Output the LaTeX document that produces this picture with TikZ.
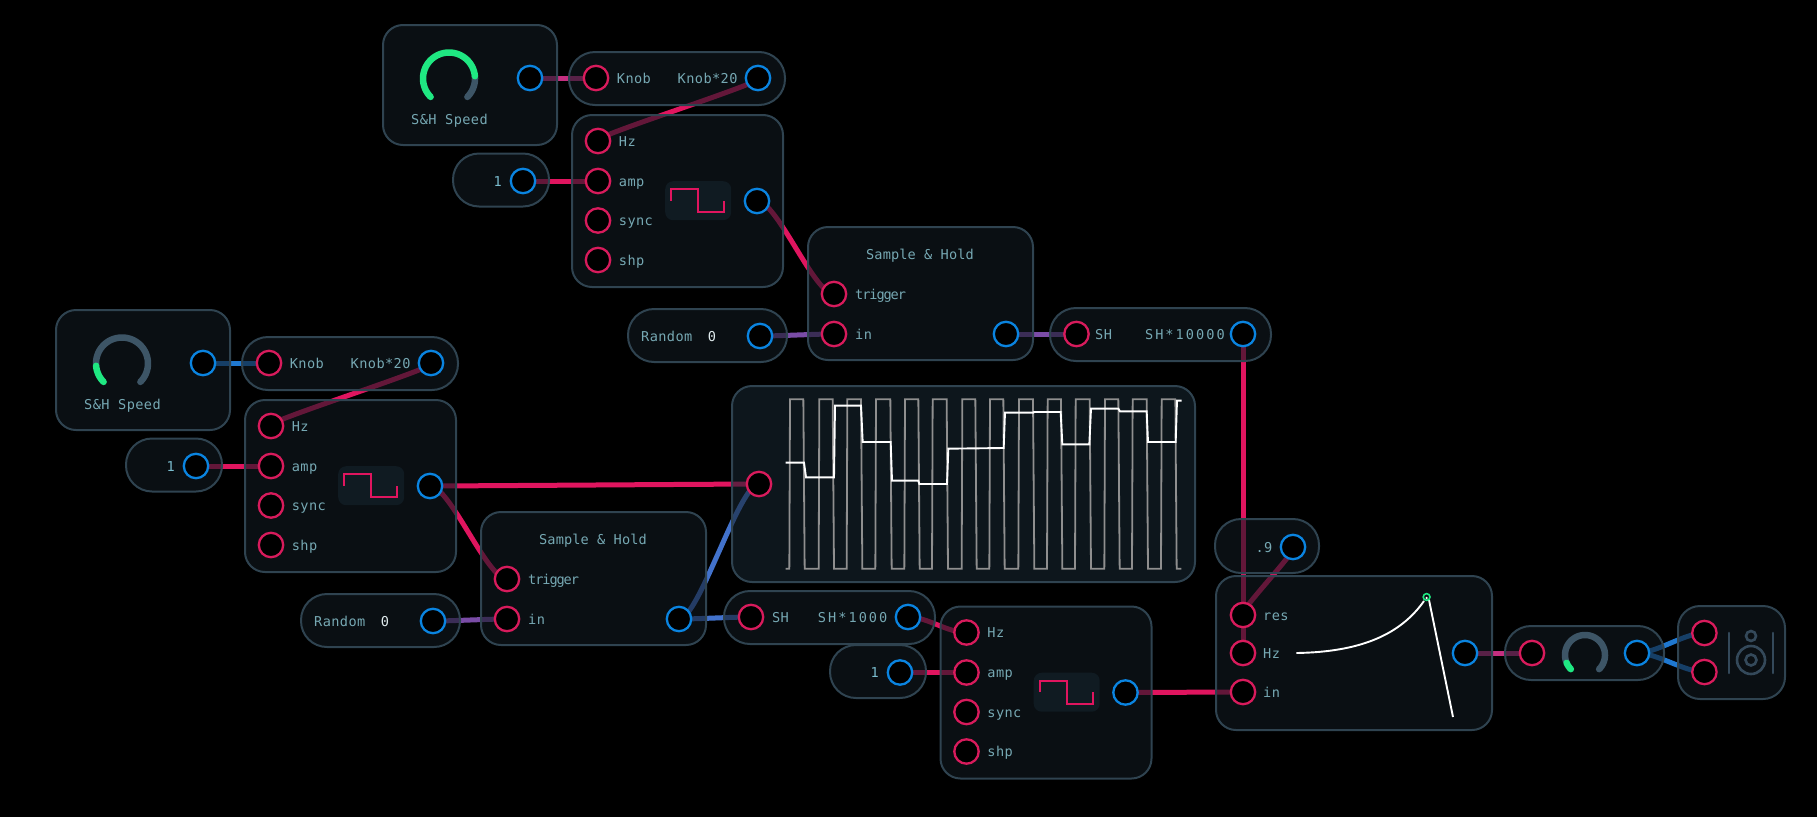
\documentclass[tikz,border=0pt]{standalone}
\usepackage{fontspec}
\setmonofont{DejaVu Sans Mono}
\newfontfamily\labfont[LetterSpace=3]{DejaVu Sans Mono}
\newfontfamily\widefont[LetterSpace=15]{DejaVu Sans Mono}
\newfontfamily\narrowfont[LetterSpace=-8]{DejaVu Sans Mono}
\newfontfamily\titlefont[LetterSpace=1]{DejaVu Sans Mono}
\pgfdeclarelayer{bglayer}
\pgfdeclarelayer{wirelayer}
\pgfsetlayers{bglayer,wirelayer,main}
\definecolor{edgecol}{HTML}{2F4350}
\definecolor{panelcol}{HTML}{111921}
\definecolor{scopecol}{HTML}{172530}
\definecolor{textcol}{HTML}{76A8B3}
\definecolor{valcol}{HTML}{7ABDCF}
\definecolor{incol}{HTML}{D81B5C}
\definecolor{outcol}{HTML}{0A84E0}
\definecolor{crimson}{HTML}{E0155F}
\definecolor{magentaw}{HTML}{C42F80}
\definecolor{purplew}{HTML}{7A4CA6}
\definecolor{bluew}{HTML}{1F78D0}
\definecolor{steelw}{HTML}{4272CC}
\definecolor{greenk}{HTML}{1FE882}
\definecolor{trackk}{HTML}{3D5566}
\definecolor{iconbg}{HTML}{101B22}
\definecolor{spk}{HTML}{34495A}
\tikzset{
  panel/.style={draw=edgecol,line width=2pt,fill=panelcol,fill opacity=.6,draw opacity=1,text opacity=1,
    rounded corners=20pt,anchor=north west,inner sep=0pt,outer sep=0pt},
  pill/.style={panel,rounded corners=26pt},
  inport/.style={circle,draw=incol,fill=black,line width=2.3pt,minimum size=24.4pt,inner sep=0pt},
  outport/.style={circle,draw=outcol,fill=black,line width=2.3pt,minimum size=24.4pt,inner sep=0pt},
  lab/.style={text=textcol,font=\labfont\fontsize{13.6}{16}\selectfont,inner sep=0pt,anchor=base west},
  labr/.style={lab,anchor=base east},
  labc/.style={lab,anchor=base},
  wire/.style={line width=5pt},
  knobarc/.style={line width=6.5pt,line cap=round},
  iconbox/.style={fill=iconbg,rounded corners=8pt,anchor=north west,inner sep=0pt,minimum width=66pt,minimum height=39pt},
  sq/.style={draw=crimson,line width=2pt},
  grayw/.style={draw=white!56!black,line width=1.8pt},
  whitew/.style={draw=white,line width=1.9pt},
}
% centre x, centre y, radius, from angle, to angle (screen degrees)
\newcommand{\knobsweep}[6]{\draw[knobarc,#6] plot[domain=#4:#5,samples=40] ({#1+#3*cos(\x)},{#2-#3*sin(\x)});}
% oscillator panel: prefix
\newcommand{\oscpanel}[1]{
  \node[panel,minimum width=211pt,minimum height=172pt] (#1osc) at (572,115) {};
  \node[inport] (#1hz) at (598,141) {};
  \node[inport] (#1amp) at (598,181) {};
  \node[inport] (#1sync) at (598,220.5) {};
  \node[inport] (#1shp) at (598,260) {};
  \node[outport] (#1out) at (757,201) {};
  \node[lab] (#1tHz) at (618.7,146) {Hz};
  \node[lab] (#1tamp) at (618.7,186) {amp};
  \node[lab] (#1tsync) at (618.7,225.5) {sync};
  \node[lab] (#1tshp) at (618.7,265) {shp};
  \node[iconbox] (#1icon) at (665,181) {};
  \draw[sq] (671,200.7) -- (671,189) -- (698,189) -- (698,212.3) -- (724.3,212.3) -- (724.3,200.7);
}
% value pill "1"
\newcommand{\onepill}[1]{
  \node[pill,minimum width=96pt,minimum height=53pt] (#1one) at (453,153.5) {};
  \node[outport] (#1oneout) at (523,181) {};
  \node[labr,text=valcol] (#1tone) at (502,186) {1};
}
% knob panel and expression pill
\newcommand{\knobgroup}[2]{
  \node[panel,minimum width=174pt,minimum height=120pt] (#1knob) at (383,25) {};
  \node[outport] (#1kout) at (530,78) {};
  \knobsweep{449}{78.5}{26}{#2}{-45}{trackk}
  \knobsweep{449}{78.5}{26}{225}{#2}{greenk}
  \node[labc] (#1tspeed) at (449.5,124) {S\&H Speed};
  \node[pill,minimum width=216pt,minimum height=53pt] (#1expr) at (569,52) {};
  \node[inport] (#1kin) at (596,78) {};
  \node[outport] (#1exout) at (758,78) {};
  \node[lab] (#1tknob) at (616.7,83.5) {Knob};
  \node[labr] (#1texpr) at (737.7,83.5) {Knob*20};
}
% sample and hold panel with random pill
\newcommand{\shgroup}[1]{
  \node[panel,minimum width=225pt,minimum height=133pt] (#1sh) at (481,512) {};
  \node[inport] (#1trig) at (507,579) {};
  \node[inport] (#1shin) at (507,619) {};
  \node[outport] (#1shout) at (679,619) {};
  \node[labc,font=\titlefont\fontsize{13.6}{16}\selectfont] (#1ttitle) at (593,544) {Sample \& Hold};
  \node[lab,font=\narrowfont\fontsize{13.6}{16}\selectfont] (#1ttrig) at (528,584) {trigger};
  \node[lab] (#1tin) at (528,624) {in};
  \node[pill,minimum width=159pt,minimum height=53pt] (#1rnd) at (301,594) {};
  \node[outport] (#1rndout) at (433,621) {};
  \node[lab] (#1trnd) at (314,626) {Random};
  \node[labc,text=white!78!textcol] (#1tzero) at (385,626) {0};
}
\begin{document}
\begin{tikzpicture}[x=1pt,y=-1pt]
\begin{pgfonlayer}{bglayer}
\fill[black] (0,0) rectangle (1817,817);
\end{pgfonlayer}
\useasboundingbox (0,0) rectangle (1817,817);

% upper group
\begin{scope}
  \knobgroup{a}{5}
  \onepill{a}
  \oscpanel{a}
\end{scope}
% left group
\begin{scope}[shift={(-327,285)}]
  \knobgroup{b}{185}
  \onepill{b}
  \oscpanel{b}
\end{scope}
% sample and hold panels
\shgroup{b}
\begin{scope}[shift={(327,-285)}]
  \shgroup{a}
\end{scope}
% SH expressions
\node[pill,minimum width=221pt,minimum height=53pt] (shexa) at (1050,308) {};
\node[inport] (shexain) at (1076.5,334) {};
\node[outport] (shexaout) at (1243,334) {};
\node[lab] (tsha) at (1095,339) {SH};
\node[labr,font=\widefont\fontsize{13.6}{16}\selectfont] (tshaex) at (1225,339) {SH*10000};
\node[pill,minimum width=211pt,minimum height=53pt] (shexb) at (724,591) {};
\node[inport] (shexbin) at (751,617) {};
\node[outport] (shexbout) at (908,617) {};
\node[lab] (tshb) at (771.8,622) {SH};
\node[labr,font=\widefont\fontsize{13.6}{16}\selectfont] (tshbex) at (887.6,622) {SH*1000};
% third oscillator
\begin{scope}[shift={(377,491.5)}]
  \onepill{c}
\end{scope}
\begin{scope}[shift={(368.5,491.5)}]
  \oscpanel{c}
\end{scope}
% scope
\node[panel,fill=scopecol,minimum width=463pt,minimum height=196pt] (scopebox) at (732,386) {};
\node[inport] (scopein) at (759,484) {};
\begin{scope}[shift={(720,370)},x=0.33333pt,y=-0.33333pt]
  \draw[grayw] (197,596) -- (208,596) -- (210,88) -- (250,88) -- (254,596) -- (296,596) -- (298,88) -- (338,88) -- (342,596) -- (380,596) -- (382,88) -- (423,88) -- (427,596) -- (466,596) -- (468,88) -- (511,88) -- (515,596) -- (553,596) -- (555,88) -- (595,88) -- (599,596) -- (636,596) -- (638,88) -- (680,88) -- (684,596) -- (725,596) -- (727,88) -- (766,88) -- (770,596) -- (808,596) -- (810,88) -- (850,88) -- (854,596) -- (895,596) -- (897,88) -- (939,88) -- (943,596) -- (981,596) -- (983,88) -- (1023,88) -- (1027,596) -- (1065,596) -- (1067,88) -- (1109,88) -- (1113,596) -- (1153,596) -- (1155,88) -- (1195,88) -- (1199,596) -- (1236,596) -- (1238,88) -- (1280,88) -- (1284,596) -- (1323,596) -- (1325,88) -- (1366,88) -- (1370,596) -- (1384,596);
  \draw[whitew] (197,278) -- (252,278) -- (258,322) -- (342,322) -- (345,107) -- (423,107) -- (428,216) -- (512,216) -- (516,332) -- (595,332) -- (598,342) -- (681,342) -- (685,236) -- (851,234) -- (855,128) -- (940,128) -- (942,126) -- (1022,126) -- (1027,223) -- (1108,223) -- (1113,116) -- (1195,116) -- (1200,124) -- (1280,124) -- (1284,216) -- (1367,216) -- (1371,92) -- (1385,92);
\end{scope}
% filter
\node[pill,minimum width=104pt,minimum height=54pt] (nine) at (1215,519) {};
\node[outport] (nineout) at (1293,547) {};
\node[labc,text=textcol] (tnine) at (1264,552) {.9};
\node[panel,minimum width=276pt,minimum height=154pt] (filter) at (1216,576) {};
\node[inport] (fres) at (1243,615) {};
\node[inport] (fhz) at (1243,653) {};
\node[inport] (fin) at (1243,692) {};
\node[outport] (fout) at (1465,653) {};
\node[lab] (tres) at (1263,620) {res};
\node[lab] (tfhz) at (1263,658) {Hz};
\node[lab] (tfin) at (1263,697) {in};
\draw[whitew] (1296.4,653) .. controls (1360,652) and (1400,635) .. (1424,601);
\draw[whitew] (1429,600) -- (1453,717);
\draw[greenk,line width=1.6pt] (1426.6,597) circle[radius=3.4pt];
\fill[white] (1426.6,598) circle[radius=1.3pt];
% volume
\node[pill,minimum width=159pt,minimum height=54pt] (vol) at (1505,626) {};
\node[inport] (volin) at (1532,653) {};
\node[outport] (volout) at (1637,653) {};
\knobsweep{1585}{655}{20}{200}{-45}{trackk}
\knobsweep{1585}{655}{20}{225}{203}{greenk}
% speaker
\node[panel,rounded corners=22pt,minimum width=107pt,minimum height=93pt] (spkbox) at (1678,606) {};
\node[inport] (spka) at (1704.4,633) {};
\node[inport] (spkb) at (1704.4,672) {};
\draw[spk,line width=2.6pt,line cap=round] (1729,633) -- (1729,673);
\draw[spk,line width=2.6pt,line cap=round] (1773,633) -- (1773,673);
\draw[spk,line width=2.6pt] (1751,636) circle[radius=5pt];
\draw[spk,line width=2.6pt] (1751,660) circle[radius=14pt];
\draw[spk,line width=2.6pt] (1751,660) circle[radius=5.5pt];

\begin{pgfonlayer}{wirelayer}
  \tikzset{bez/.style={to path={.. controls +(20,0) and +(-20,0) .. (\tikztotarget)}}}
  \draw[wire,magentaw] (akout.center) to[bez] (akin.center);
  \draw[wire,crimson] (aexout.center) to[bez] (ahz.center);
  \draw[wire,crimson] (aoneout.center) to[bez] (aamp.center);
  \draw[wire,crimson] (aout.center) to[bez] (atrig.center);
  \draw[wire,purplew] (arndout.center) to[bez] (ashin.center);
  \draw[wire,purplew] (ashout.center) to[bez] (shexain.center);
  \draw[wire,crimson] (shexaout.center) -- (fhz.center);
  \draw[wire,bluew] (bkout.center) to[bez] (bkin.center);
  \draw[wire,crimson] (bexout.center) to[bez] (bhz.center);
  \draw[wire,crimson] (boneout.center) to[bez] (bamp.center);
  \draw[wire,crimson] (bout.center) to[bez] (scopein.center);
  \draw[wire,crimson] (bout.center) to[bez] (btrig.center);
  \draw[wire,purplew] (brndout.center) to[bez] (bshin.center);
  \draw[wire,steelw] (bshout.center) to[bez] (scopein.center);
  \draw[wire,steelw] (bshout.center) to[bez] (shexbin.center);
  \draw[wire,crimson] (shexbout.center) to[bez] (chz.center);
  \draw[wire,crimson] (coneout.center) to[bez] (camp.center);
  \draw[wire,crimson] (cout.center) to[bez] (fin.center);
  \draw[wire,crimson] (nineout.center) .. controls +(8,0) and +(-8,0) .. (fres.center);
  \draw[wire,magentaw] (fout.center) to[bez] (volin.center);
  \draw[wire,bluew] (volout.center) to[bez] (spka.center);
  \draw[wire,bluew] (volout.center) to[bez] (spkb.center);
\end{pgfonlayer}
\end{tikzpicture}
\end{document}
